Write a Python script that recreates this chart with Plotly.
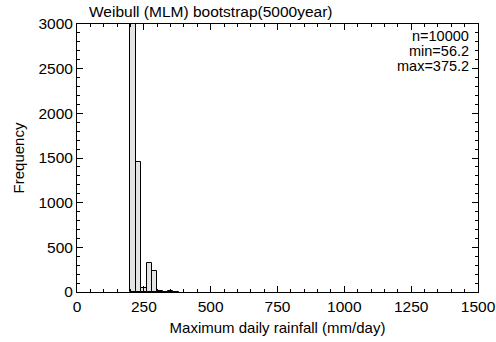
import plotly.graph_objects as go

bin_left = [200, 220, 240, 260, 280, 300, 320, 340, 360]
counts = [7895, 1460, 50, 328, 238, 8, 4, 6, 3]
bin_width = 20

title_text = "Weibull (MLM) bootstrap(5000year)"
stats_lines = ["n=10000", "min=56.2", "max=375.2"]

centers = [b + bin_width / 2 for b in bin_left]

FONT = "Liberation Sans, Arial, sans-serif"

fig = go.Figure()
fig.add_trace(go.Bar(
    x=centers, y=counts, width=[bin_width] * len(centers),
    marker=dict(color="#e4e4e4", line=dict(color="black", width=1)),
    showlegend=False,
))

axis_common = dict(
    showline=True, linecolor="black", linewidth=1, mirror="ticks",
    ticks="inside", ticklen=6, tickcolor="black", tickwidth=1,
    showgrid=False, zeroline=False, automargin=False,
    tickfont=dict(family=FONT, size=15.5, color="black"),
)

fig.update_xaxes(
    range=[0, 1500], tickmode="linear", tick0=0, dtick=250,
    minor=dict(ticks="inside", ticklen=3, tickcolor="black", dtick=50, showgrid=False),
    title=dict(text="Maximum daily rainfall (mm/day)", font=dict(family=FONT, size=15, color="black"), standoff=8),
    **axis_common,
)
fig.update_yaxes(
    range=[0, 3000], tickmode="linear", tick0=0, dtick=500,
    minor=dict(ticks="inside", ticklen=3, tickcolor="black", dtick=100, showgrid=False),
    title=dict(text="Frequency", font=dict(family=FONT, size=15, color="black"), standoff=10),
    **axis_common,
)

fig.add_annotation(
    xref="paper", yref="paper", x=0.025, y=1.045, xanchor="left", yanchor="middle",
    text=title_text, showarrow=False, font=dict(family=FONT, size=15.5, color="black"),
)
for line, yp in zip(stats_lines, [0.955, 0.899, 0.843]):
    fig.add_annotation(
        xref="paper", yref="paper", x=0.982, y=yp, xanchor="right", yanchor="middle",
        text=line, showarrow=False, font=dict(family=FONT, size=14.5, color="black"),
    )

fig.update_layout(
    width=496, height=342,
    margin=dict(l=77, r=18, t=24, b=50, autoexpand=False),
    plot_bgcolor="white", paper_bgcolor="white",
    bargap=0,
    font=dict(family=FONT, color="black"),
)

fig.write_html("out.html")
